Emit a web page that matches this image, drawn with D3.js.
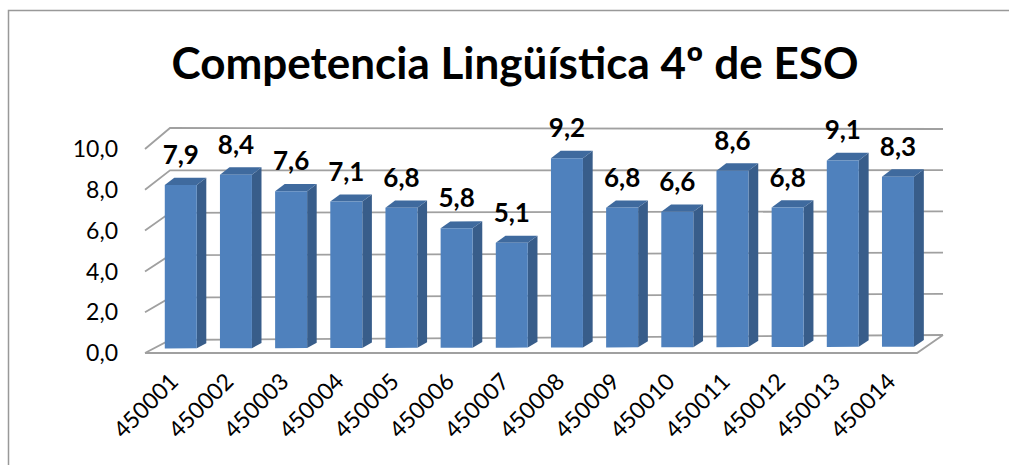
<!DOCTYPE html>
<html lang="es">
<head>
<meta charset="UTF-8">
<title>Competencia Lingüística 4º de ESO</title>
<style>
    body { margin: 0; background: #fff; overflow: hidden; }
    text { font-family: Lato, "Open Sans", sans-serif; }
</style>
</head>
<body>
<div id="container"></div>
<script src="https://d3js.org/d3.v7.min.js"></script>
<script>
    var title = "Competencia Lingüística 4º de ESO";
    var centros = ["450001", "450002", "450003", "450004", "450005", "450006", "450007",
                   "450008", "450009", "450010", "450011", "450012", "450013", "450014"];
    var notas = [7.9, 8.4, 7.6, 7.1, 6.8, 5.8, 5.1, 9.2, 6.8, 6.6, 8.6, 6.8, 9.1, 8.3];
    var yTicks = [0, 2, 4, 6, 8, 10];

    var width = 1009, height = 465;

    var svg = d3.select("#container").append("svg")
        .attr("width", width)
        .attr("height", height);

    svg.append("rect")
        .attr("x", 8.5).attr("y", 10.5)
        .attr("width", 1020).attr("height", 480)
        .attr("fill", "#fff")
        .attr("stroke", "#999")
        .attr("stroke-width", 1.5);

    // category position along the floor, 0..1
    var u = d3.scaleBand().domain(centros).range([0, 1]);

    // front plane (z = 0) and back wall (z = 1), a bit of perspective
    var frontX = d3.scaleLinear().domain([0, 1]).range([145, 917]);
    var backX = d3.scaleLinear().domain([0, 1]).range([170, 943]);
    var frontY = d3.scaleLinear().domain([0, 10]).range([353, 149]);
    var backBase = d3.scaleLinear().domain([0, 1]).range([340, 335]);
    var backTop = d3.scaleLinear().domain([0, 1]).range([128, 129]);

    function proj(p, v, z) {
        var x = frontX(p) + (backX(p) - frontX(p)) * z;
        var by = backBase(p) + (backTop(p) - backBase(p)) * v / 10;
        var y = frontY(v) + (by - frontY(v)) * z;
        return [x, y];
    }

    var line = d3.line();

    // gridlines on side wall + back wall
    var grid = svg.append("g").attr("class", "grid");
    grid.selectAll("path")
        .data(yTicks)
        .enter().append("path")
        .attr("d", function (v) {
            return line([proj(0, v, 0), proj(0, v, 1), proj(1, v, 1)]);
        })
        .attr("fill", "none")
        .attr("stroke", "#a0a0a0")
        .attr("stroke-width", 1.8);

    // floor
    svg.append("path")
        .attr("d", line([proj(0, 0, 0), proj(1, 0, 0), proj(1, 0, 1)]))
        .attr("fill", "none")
        .attr("stroke", "#a0a0a0")
        .attr("stroke-width", 1.8);

    // y axis labels
    svg.append("g").selectAll("text")
        .data(yTicks)
        .enter().append("text")
        .attr("x", 118)
        .attr("y", function (v) { return proj(0, v, 0)[1]; })
        .attr("dy", "0.36em")
        .attr("text-anchor", "end")
        .style("font-size", "23px")
        .attr("fill", "#000")
        .text(function (v) { return d3.format(".1f")(v).replace(".", ","); });

    // bars
    var z0 = 0.35, z1 = 0.73;
    var bw = u.bandwidth();
    var bars = svg.append("g").selectAll("g.bar")
        .data(notas.map(function (v, i) { return { c: centros[i], v: v }; }))
        .enter().append("g")
        .attr("class", "bar");

    function faces(d) {
        var a = u(d.c) + bw * 0.2, b = u(d.c) + bw * 0.78;
        return {
            front: [proj(a, 0, z0), proj(b, 0, z0), proj(b, d.v, z0), proj(a, d.v, z0)],
            side: [proj(b, 0, z0), proj(b, 0, z1), proj(b, d.v, z1), proj(b, d.v, z0)],
            top: [proj(a, d.v, z0), proj(b, d.v, z0), proj(b, d.v, z1), proj(a, d.v, z1)]
        };
    }

    bars.append("path")
        .attr("d", function (d) { return line(faces(d).side) + "Z"; })
        .attr("fill", "#385d8a");
    bars.append("path")
        .attr("d", function (d) { return line(faces(d).top) + "Z"; })
        .attr("fill", "#3f6a9e");
    bars.append("path")
        .attr("d", function (d) { return line(faces(d).front) + "Z"; })
        .attr("fill", "#4f81bd");

    // value labels
    bars.append("text")
        .attr("x", function (d) {
            var f = faces(d).front;
            return (f[0][0] + f[1][0]) / 2;
        })
        .attr("y", function (d) { return faces(d).front[3][1] - 21; })
        .attr("text-anchor", "middle")
        .style("font-size", "26px")
        .style("font-weight", "bold")
        .attr("fill", "#000")
        .text(function (d) { return d3.format(".1f")(d.v).replace(".", ","); });

    // category labels, rotated
    bars.append("text")
        .attr("transform", function (d) {
            var f = faces(d).front;
            var cx = (f[0][0] + f[1][0]) / 2 - 1;
            return "translate(" + cx + ",383) rotate(-45)";
        })
        .attr("text-anchor", "end")
        .style("font-size", "23px")
        .attr("fill", "#000")
        .text(function (d) { return d.c; });

    // title
    svg.append("text")
        .attr("x", 515)
        .attr("y", 79)
        .attr("text-anchor", "middle")
        .style("font-size", "44px")
        .style("font-weight", "bold")
        .attr("fill", "#000")
        .text(title);
</script>
</body>
</html>
